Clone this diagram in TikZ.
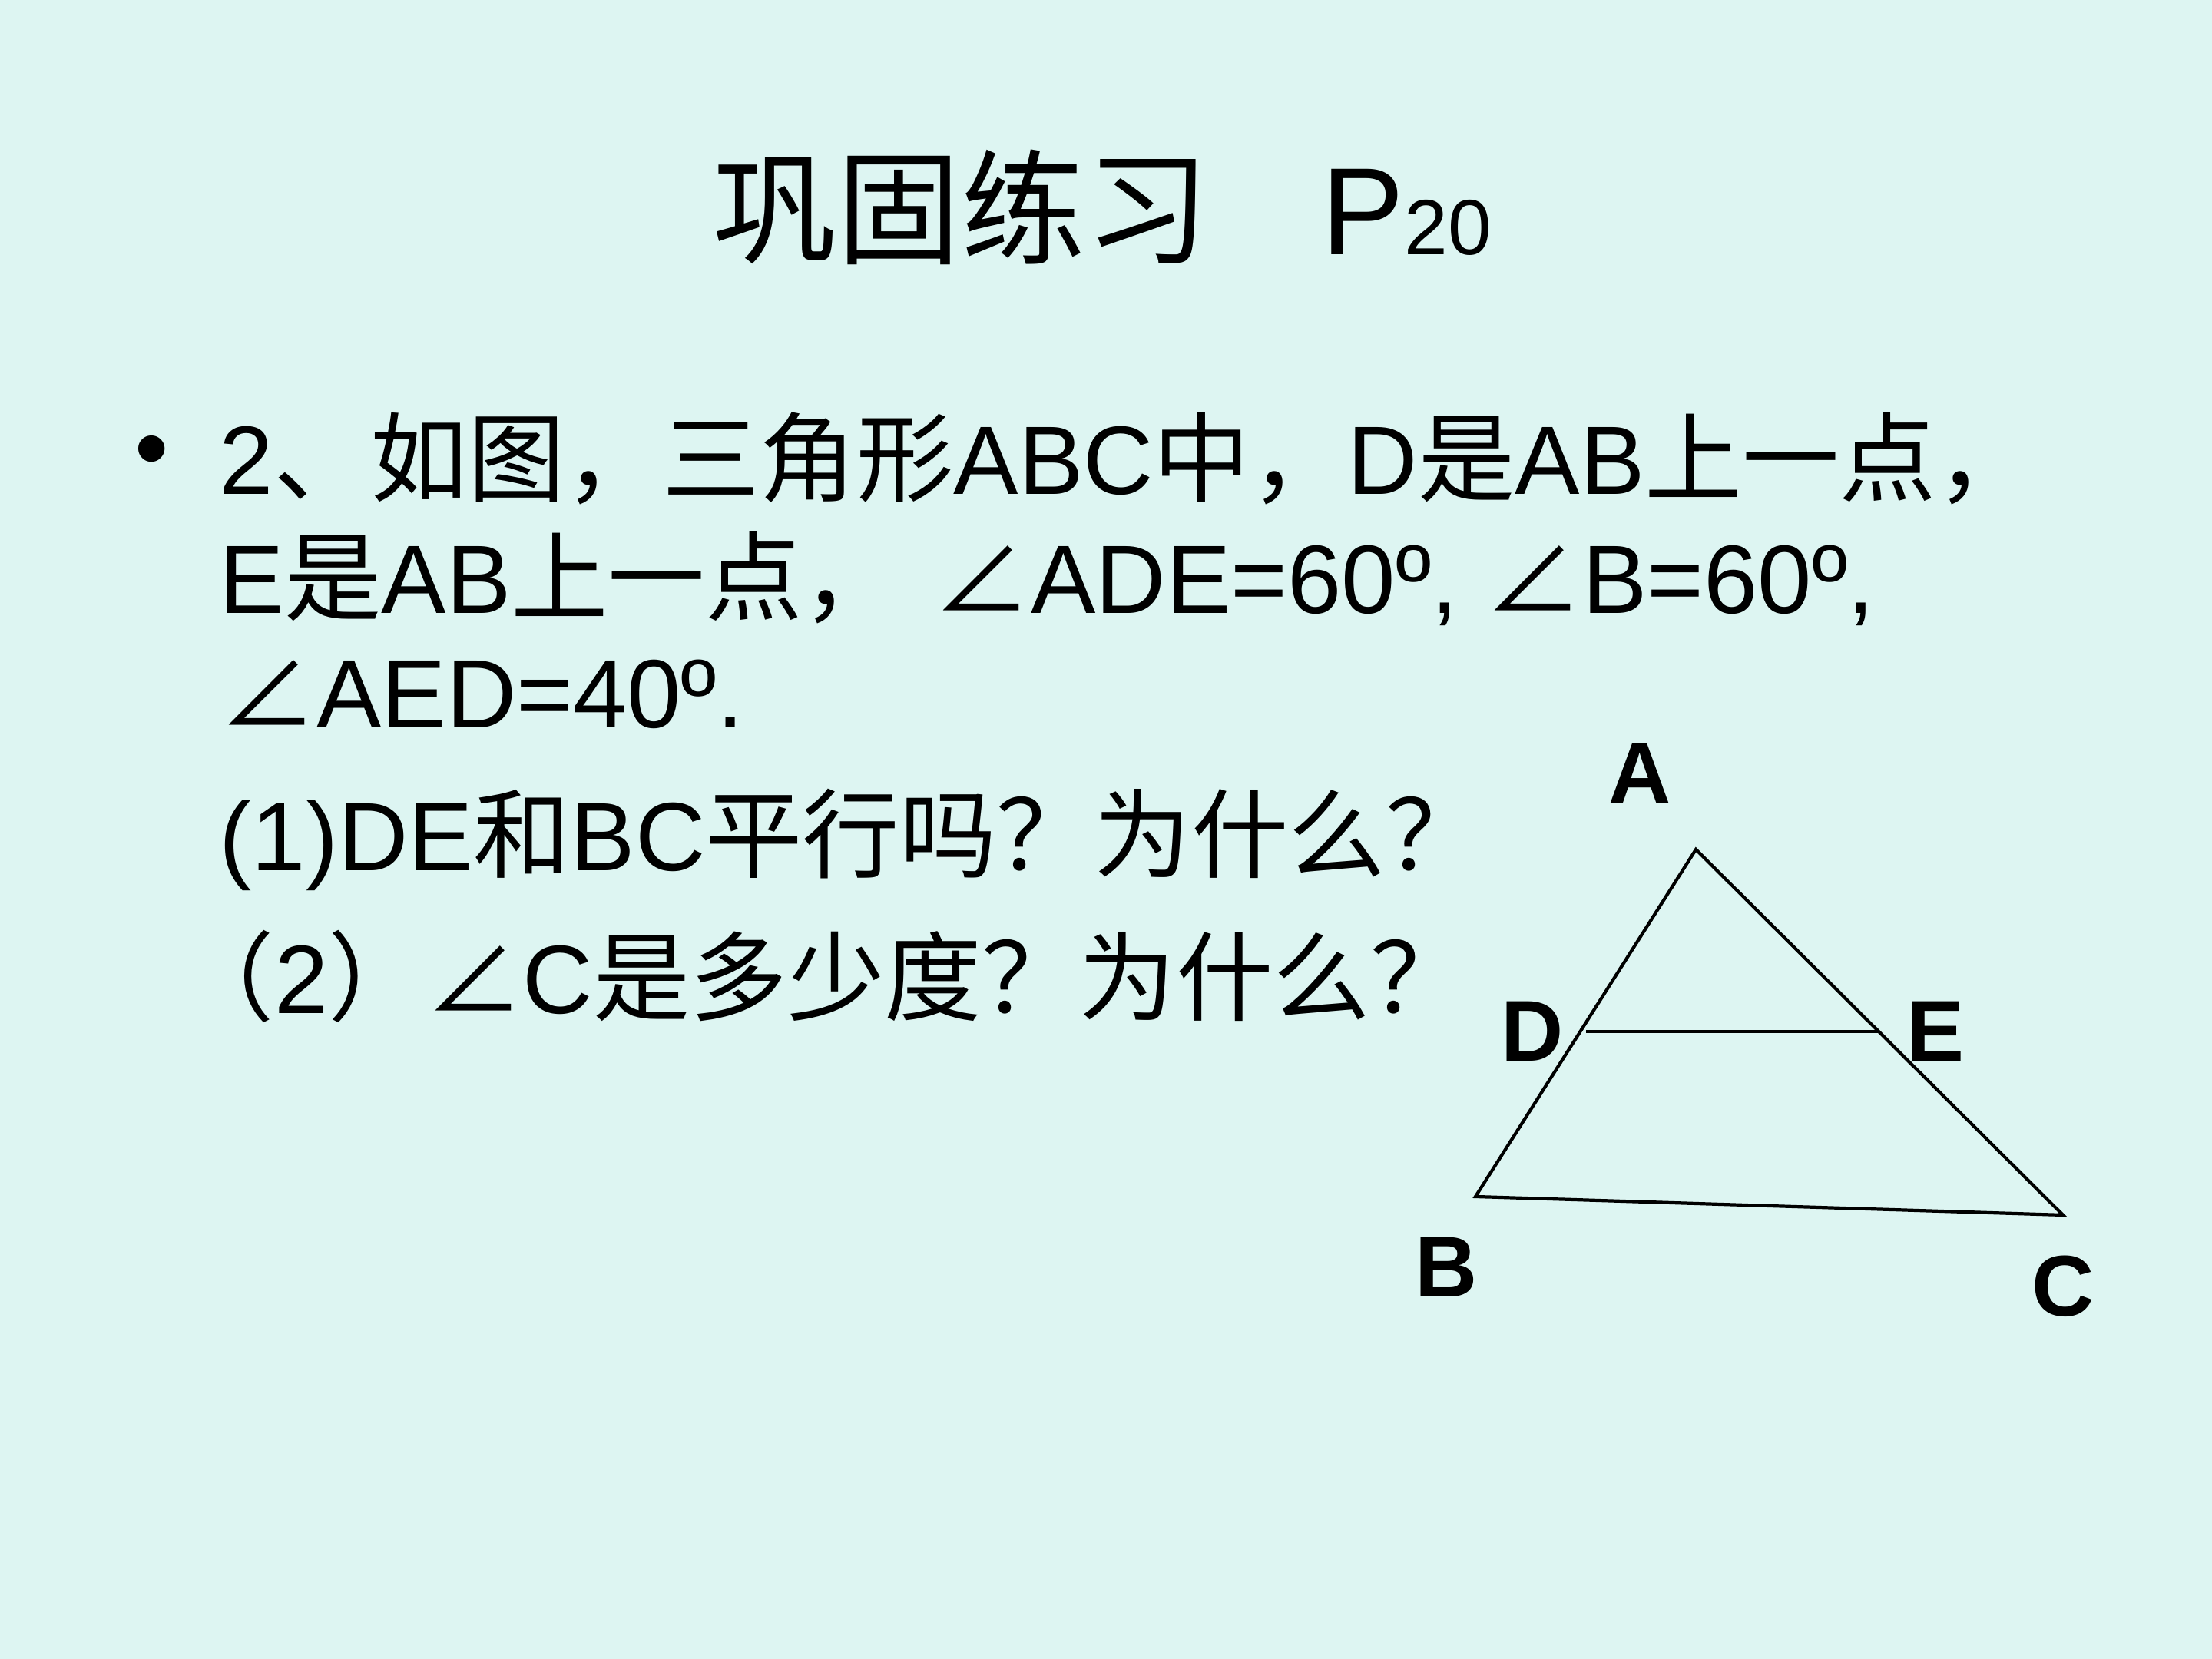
\documentclass[tikz,border=0pt]{standalone}
\usepackage{fontspec}
\setmainfont{Liberation Sans}
\newfontfamily\cjk{Noto Sans CJK SC}
\newcommand{\cj}[1]{{\cjk #1}}
\definecolor{slidebg}{HTML}{DDF5F2}
\begin{document}
\begin{tikzpicture}[
    line/.style={anchor=west, inner sep=0pt, font=\fontsize{36}{40}\selectfont},
    vlabel/.style={font=\fontsize{32}{36}\selectfont\bfseries, inner sep=0pt},
    edge/.style={draw=black, line width=1.2pt},
]
\fill[slidebg] (0,0) rectangle (28.8,21.6);
\useasboundingbox (0,0) rectangle (28.8,21.6);

% title
\node[font=\fontsize{46}{50}\selectfont] (title) at (14.35,18.9)
    {\cj{巩固练习}\hspace{0.9em}P{\fontsize{29}{30}\selectfont 20}};

% question text
\node[line] (dot) at (1.75,15.63) {•};
\node[line] (q1) at (2.85,15.63) {2\cj{、如图，三角形}ABC\cj{中，}D\cj{是}AB\cj{上一点，}};
\node[line] (q2) at (2.85,14.07) {E\cj{是}AB\cj{上一点，}\hspace{0.35em}\cj{∠}ADE=60º, \cj{∠}B=60º,};
\node[line] (q3) at (2.85,12.56) {\cj{∠}AED=40º.};
\node[line] (q4) at (2.85,10.67) {(1)DE\cj{和}BC\cj{平行吗？为什么？}};
\node[line] (q5) at (2.30,8.89) {\cj{（}2\cj{）}\cj{∠}C\cj{是多少度？为什么？}};

% triangle
\coordinate (A) at (22.08,10.54);
\coordinate (B) at (19.21,6.02);
\coordinate (C) at (26.86,5.78);
\coordinate (D) at (20.65,8.17);
\coordinate (E) at (24.45,8.17);
\draw[edge] (A) -- (B) -- (C) -- cycle;
\draw[edge] (D) -- (E);

\node[vlabel] (lA) at (21.35,11.53) {A};
\node[vlabel] (lB) at (18.83,5.10) {B};
\node[vlabel] (lC) at (26.86,4.85) {C};
\node[vlabel] (lD) at (19.95,8.17) {D};
\node[vlabel] (lE) at (25.20,8.17) {E};
\end{tikzpicture}
\end{document}
